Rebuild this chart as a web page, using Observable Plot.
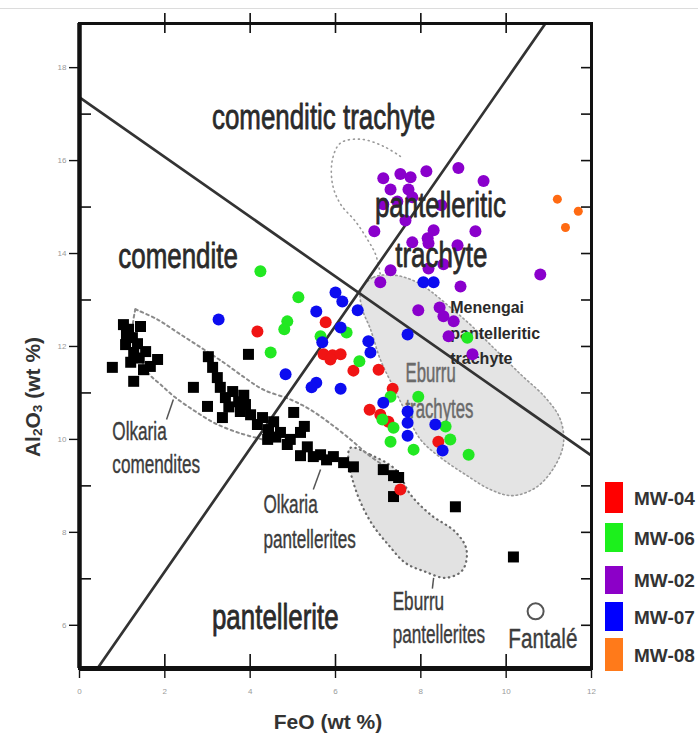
<!DOCTYPE html>
<html><head><meta charset="utf-8">
<script src="https://cdn.jsdelivr.net/npm/d3@7"></script>
<script src="https://cdn.jsdelivr.net/npm/@observablehq/plot@0.6"></script>
<style>
body{margin:0;background:#fff;font-family:"Liberation Sans",Arial,sans-serif;}
#wrap{position:relative;width:698px;height:742px;overflow:hidden;background:#fff;}
#wrap svg{position:absolute;left:0;top:0;}
.topline{position:absolute;left:0;top:8px;width:698px;height:1px;background:#dcdcdc;}
.lgbox{position:absolute;left:605px;width:18px;}
.lgtxt{position:absolute;left:634px;font:bold 19px "Liberation Sans",Arial,sans-serif;color:#333;white-space:nowrap;transform:translateY(-50%);}
.xtitle{position:absolute;left:228px;width:200px;top:710px;text-align:center;font:bold 21px "Liberation Sans",Arial,sans-serif;color:#333;}
.ytitle{position:absolute;left:33px;top:397px;transform:translate(-50%,-50%) rotate(-90deg);font:bold 21px "Liberation Sans",Arial,sans-serif;color:#333;white-space:nowrap;}
.ytitle sub{font-size:65%;vertical-align:-2px;}
</style></head>
<body><div id="wrap"><div class="topline"></div></div>
<script>
// ---------- axes ----------
const xDomain = [0, 12];
const yDomain = [5.07, 18.95];
const xTicks = [0, 2, 4, 6, 8, 10, 12];
const xInnerTicks = [2, 4, 6, 8, 10];
const yTicks = [6, 8, 10, 12, 14, 16, 18];
const yMinor = [7, 9, 11, 13, 15, 17];
const yRight = [6, 7, 8, 9, 10, 11, 12, 13, 14, 15, 16, 17, 18];

// ---------- samples [FeO, Al2O3] ----------
const olkaria = [
  [0.77,11.55],[1.03,12.47],[1.15,12.37],[1.43,12.43],[1.24,12.19],[1.36,12.06],[1.27,11.87],
  [1.55,11.89],[1.83,11.72],[1.66,11.57],[1.20,11.66],[1.50,11.50],[1.27,11.25],[1.08,12.04],
  [1.10,12.25],[1.40,11.75],
  [2.67,11.12],[3.02,11.78],[3.96,11.83],[3.12,11.55],[3.23,11.33],[3.00,10.71],[3.30,11.12],
  [3.42,10.90],[3.59,11.03],[3.73,10.81],[3.35,10.47],[3.77,10.60],[3.89,10.75],[4.01,10.53],
  [4.17,10.32],[4.29,10.47],[4.43,10.21],[4.55,10.38],[4.71,10.15],[4.87,9.89],[5.02,10.58],
  [4.94,10.00],[5.18,10.15],[5.27,10.28],[5.34,9.84],[5.18,9.65],[5.48,9.63],[5.65,9.67],
  [5.79,9.56],[5.95,9.63],[6.19,9.50],[6.42,9.41],[7.12,9.35],[7.36,9.22],[7.36,8.77],
  [7.48,9.18],[8.81,8.55],[10.17,7.47],[4.41,10.00],[3.50,10.70],[3.85,10.95],[4.60,10.05]
];
const mw04 = [
  [4.17,12.32],[5.77,12.52],[5.72,11.83],[5.93,11.81],[6.12,11.83],[5.88,11.72],[6.42,11.48],
  [7.01,11.50],[7.34,11.09],[6.80,10.64],[7.05,10.53],[7.24,10.38],[8.41,9.95],[7.52,8.92]
];
const mw06 = [
  [4.24,13.62],[5.13,13.06],[4.87,12.54],[4.80,12.37],[4.48,11.87],[5.65,12.22],[6.26,12.30],
  [6.56,11.68],[9.09,12.19],[7.94,10.92],[7.29,10.92],[7.10,10.43],[7.36,10.25],[7.29,9.95],
  [7.83,9.78],[8.58,10.28],[8.69,10.00],[9.12,9.67]
];
const mw02 = [
  [7.12,15.62],[7.29,15.38],[7.52,15.71],[7.76,15.64],[7.71,15.38],[7.80,15.21],[7.45,15.12],
  [7.12,15.06],[8.13,15.77],[8.88,15.84],[9.47,15.56],[8.48,15.04],[7.64,14.71],[6.91,14.48],
  [8.30,14.50],[8.16,14.33],[9.28,14.48],[7.80,14.24],[8.18,14.22],[8.86,14.18],[8.53,13.77],
  [8.18,13.68],[7.29,13.64],[7.05,13.38],[8.93,13.29],[10.80,13.55],[7.94,12.78],[8.44,12.84],
  [8.53,12.65],[8.77,12.54],[8.65,12.22],[9.21,11.83]
];
const mw07 = [
  [3.26,12.58],[6.00,13.16],[6.16,12.97],[5.55,12.75],[6.52,12.78],[6.12,12.41],[5.69,12.09],
  [4.83,11.40],[5.55,11.22],[5.44,11.12],[6.12,11.09],[7.69,12.26],[6.77,12.11],[6.82,11.87],
  [8.06,13.38],[8.30,13.38],[7.12,10.79],[7.69,10.60],[7.69,10.36],[7.69,10.08],[8.34,10.32],
  [8.51,9.76]
];
const mw08 = [[11.20,15.17],[11.69,14.91],[11.39,14.56]];

const sampleNames = ["MW-04", "MW-06", "MW-02", "MW-07", "MW-08"];
const sampleColors = ["#f01414", "#22e822", "#8a00cc", "#0c0cf0", "#ff6a12"];
const legendColors = ["#ff0000", "#1cf01c", "#8c00c8", "#0000ff", "#ff7a1a"];

// ---------- classification boundaries ----------
const boundaryA = [[0,17.36],[12,9.65]];
const boundaryB = [[0.42,5.07],[10.92,18.95]];

// ---------- fields ----------
const eburruTrachytes = [
  [6.59,13.19],[6.89,13.49],[7.41,13.53],[7.87,13.40],[8.23,13.19],[8.69,12.84],[9.16,12.47],
  [9.63,12.04],[10.34,11.40],[10.92,10.90],[11.27,10.43],[11.34,9.89],[11.09,9.35],[10.69,8.96],
  [10.15,8.79],[9.63,8.92],[9.05,9.24],[8.46,9.61],[7.99,10.00],[7.64,10.60],[7.36,11.12],
  [7.05,11.72],[6.82,12.37],[6.63,12.80]
];
const eburruPantellerites = [
  [6.35,9.82],[6.82,9.67],[7.41,9.35],[7.76,8.81],[8.23,8.38],[8.81,8.01],[9.07,7.63],[8.98,7.19],
  [8.58,7.02],[8.11,7.15],[7.64,7.34],[7.24,7.73],[6.87,8.16],[6.59,8.64],[6.40,9.13],[6.30,9.56]
];
const comTrachyteField = [
  [7.52,16.09],[7.12,16.31],[6.59,16.46],[6.12,16.38],[5.93,16.03],[5.93,15.49],[6.12,15.06],
  [6.47,14.69],[6.75,14.30],[6.94,13.98],[7.05,13.55]
];
const olkariaUpper = [
  [1.31,12.80],[1.83,12.58],[2.30,12.30],[2.84,11.98],[3.37,11.66],[3.84,11.35],[4.31,11.07],
  [4.94,10.86],[5.41,10.64],[5.88,10.34],[6.35,10.00],[6.77,9.67],[7.17,9.41]
];
const olkariaLower = [
  [1.31,12.80],[1.25,12.3],[1.59,11.46],[1.90,11.18],[2.25,10.90],[2.72,10.60],[3.19,10.34],[3.77,10.13],[4.29,10.00]
];
const leaderX1 = [2.20, 5.65, 8.30];
const leaderY1 = [10.86, 9.35, 7.02];
const leaderX2 = [2.04, 5.48, 8.27];
const leaderY2 = [10.43, 8.92, 6.79];

// ---------- labels ----------
const bigText = ["comenditic trachyte", "comendite", "pantellerite", "pantelleritic", "trachyte"];
const bigX = [5.72, 2.31, 4.59, 8.46, 8.48];
const bigY = [16.69, 13.68, 5.93, 14.78, 13.70];
const bigAnchor = ["middle", "middle", "middle", "start", "start"];

const fieldText = ["Olkaria", "comendites", "Olkaria", "pantellerites", "Eburru", "pantellerites"];
const fieldX = [0.77, 0.77, 4.31, 4.31, 7.34, 7.34];
const fieldY = [9.98, 9.27, 8.41, 7.67, 6.32, 5.61];

const eburruText = ["Eburru", "trachytes"];
const eburruX = [7.64, 7.64];
const eburruY = [11.23, 10.47];

const menengaiText = ["Menengai", "pantelleritic", "trachyte"];
const menengaiX = [8.69, 8.69, 8.69];
const menengaiY = [12.73, 12.17, 11.63];

const fantaleText = ["Fantalé"];
const fantaleX = [10.86];
const fantaleY = [5.52];
const fantaleSymbol = [[10.69, 6.30]];

const idx = a => a.map((_, i) => i);
const FONT = "Liberation Sans";

const samples = [mw04, mw06, mw02, mw07, mw08];
const pointMarks = samples.map((arr, i) => Plot.dot(arr, {
  x: d => d[0], y: d => d[1], r: i === 4 ? 4.5 : 6, fill: sampleColors[i], stroke: "none"
}));

const plot = Plot.plot({
  width: 698, height: 742,
  marginLeft: 79, marginRight: 107, marginTop: 23, marginBottom: 74,
  x: {domain: xDomain},
  y: {domain: yDomain},
  style: {fontFamily: FONT, background: "transparent"},
  marks: [
    // fields
    Plot.line(eburruTrachytes, {x: d => d[0], y: d => d[1], curve: "catmull-rom-closed", fill: "#e4e4e4", stroke: "#9a9a9a", strokeWidth: 1.6, strokeDasharray: "1.5,3", strokeLinecap: "round"}),
    Plot.line(eburruPantellerites, {x: d => d[0], y: d => d[1], curve: "catmull-rom-closed", fill: "#e2e2e2", stroke: "#6a6a6a", strokeWidth: 2.2, strokeDasharray: "0.5,4.5", strokeLinecap: "round"}),
    Plot.line(comTrachyteField, {x: d => d[0], y: d => d[1], curve: "catmull-rom", stroke: "#9a9a9a", strokeWidth: 1.6, strokeDasharray: "1,4", strokeLinecap: "round"}),
    Plot.line(olkariaUpper, {x: d => d[0], y: d => d[1], curve: "catmull-rom", stroke: "#8a8a8a", strokeWidth: 2, strokeDasharray: "2.5,3.5"}),
    Plot.line(olkariaLower, {x: d => d[0], y: d => d[1], curve: "catmull-rom", stroke: "#8a8a8a", strokeWidth: 2, strokeDasharray: "2.5,3.5"}),
    Plot.link(idx(leaderX1), {x1: i => leaderX1[i], y1: i => leaderY1[i], x2: i => leaderX2[i], y2: i => leaderY2[i], stroke: "#555", strokeWidth: 1.5}),
    // classification boundaries
    Plot.line(boundaryA, {x: d => d[0], y: d => d[1], stroke: "#333", strokeWidth: 2.7}),
    Plot.line(boundaryB, {x: d => d[0], y: d => d[1], stroke: "#333", strokeWidth: 2.7}),
    // small field labels (under points)
    Plot.text(idx(menengaiText), {x: i => menengaiX[i], y: i => menengaiY[i], text: i => menengaiText[i], textAnchor: "start", lineAnchor: "bottom", fontSize: 16, fontWeight: "bold", fill: "#2a2a2a"}),
    Plot.text(idx(eburruText), {x: i => eburruX[i], y: i => eburruY[i], text: i => eburruText[i], textAnchor: "start", lineAnchor: "bottom", fontSize: 27, fill: "#6a6a6a", stroke: "#6a6a6a", strokeWidth: 0.5}),
    Plot.text(idx(fieldText), {x: i => fieldX[i], y: i => fieldY[i], text: i => fieldText[i], textAnchor: "start", lineAnchor: "bottom", fontSize: 26, fill: "#3c3c3c", stroke: "#3c3c3c", strokeWidth: 0.4}),
    Plot.text(idx(fantaleText), {x: i => fantaleX[i], y: i => fantaleY[i], text: i => fantaleText[i], textAnchor: "middle", lineAnchor: "bottom", fontSize: 28, fill: "#3c3c3c", stroke: "#3c3c3c", strokeWidth: 0.4}),
    Plot.dot(fantaleSymbol, {x: d => d[0], y: d => d[1], r: 8, fill: "none", stroke: "#555", strokeWidth: 2}),
    // samples
    Plot.dot(olkaria, {x: d => d[0], y: d => d[1], symbol: "square", r: 6.2, fill: "#000", stroke: "none"}),
    ...pointMarks,
    // big classification labels
    Plot.text(idx(bigText), {x: i => bigX[i], y: i => bigY[i], text: i => bigText[i], textAnchor: i => bigAnchor[i], lineAnchor: "bottom", fontSize: 36, fill: "#2a2a2a", stroke: "#2a2a2a", strokeWidth: 0.8}),
    // frame and ticks
    Plot.frame({stroke: "#111", strokeWidth: 3}),
    Plot.ruleX([xDomain[0]], {stroke: "#111", strokeWidth: 4.5}),
    Plot.ruleY([yDomain[0]], {stroke: "#111", strokeWidth: 5}),
    Plot.tickX(xInnerTicks, {x: d => d, insetTop: 645 - 14, stroke: "#111", strokeWidth: 1.6}),
    Plot.tickX(xInnerTicks, {x: d => d, insetBottom: 645 - 20, dy: -10, stroke: "#111", strokeWidth: 1.6}),
    Plot.tickY(yMinor, {y: d => d, insetRight: 512 - 12, stroke: "#111", strokeWidth: 1.6}),
    Plot.tickY(yRight, {y: d => d, insetLeft: 512 - 10, stroke: "#111", strokeWidth: 1.6}),
    Plot.axisX(xTicks, {anchor: "bottom", tickSize: 10, tickPadding: 10, fontSize: 8, stroke: "#111", strokeWidth: 1.4, fill: "#9a9a9a", label: null}),
    Plot.axisY(yTicks, {anchor: "left", tickSize: 10, tickPadding: 3, fontSize: 8, stroke: "#111", strokeWidth: 1.4, fill: "#9a9a9a", label: null})
  ]
});

// condense the label fonts horizontally (the reference uses a narrow face)
const condense = [1, 0.62, 0.66, 0.74, 0.72]; // menengai, eburru, field, fantale, big
d3.select(plot).selectAll('g[aria-label="text"]').each(function(_, gi) {
  const s = condense[gi];
  if (s === undefined || s === 1) return;
  d3.select(this).selectAll("text").each(function() {
    const t = this.getAttribute("transform");
    if (t) this.setAttribute("transform", t + ` scale(${s},1)`);
    else {
      const x = +this.getAttribute("x") || 0, y = +this.getAttribute("y") || 0;
      this.setAttribute("x", 0); this.setAttribute("y", 0);
      this.setAttribute("transform", `translate(${x},${y}) scale(${s},1)`);
    }
  });
});

const wrap = document.getElementById("wrap");
wrap.appendChild(plot);

// legend
const lgTop = [482, 523, 566, 602, 638];
const lgHeight = [31, 29, 28, 29, 33];
sampleNames.forEach((name, i) => {
  const b = document.createElement("div");
  b.className = "lgbox";
  b.style.top = lgTop[i] + "px";
  b.style.height = lgHeight[i] + "px";
  b.style.background = legendColors[i];
  wrap.appendChild(b);
  const t = document.createElement("div");
  t.className = "lgtxt";
  t.style.top = (lgTop[i] + lgHeight[i] / 2 + 1) + "px";
  t.textContent = name;
  wrap.appendChild(t);
});

// axis titles
const xt = document.createElement("div");
xt.className = "xtitle";
xt.textContent = "FeO (wt %)";
wrap.appendChild(xt);
const yt = document.createElement("div");
yt.className = "ytitle";
yt.innerHTML = "Al<sub>2</sub>O<sub>3</sub> (wt %)";
wrap.appendChild(yt);
</script>
</body></html>
